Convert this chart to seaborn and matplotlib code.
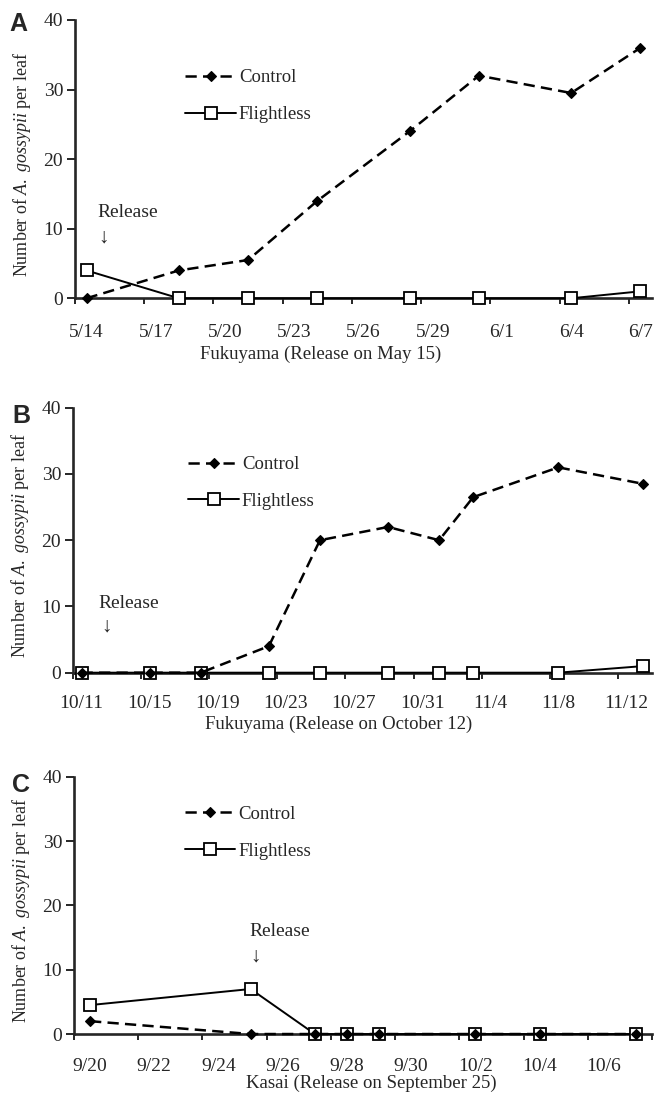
import matplotlib
matplotlib.use("Agg")
import numpy as np
import pandas as pd
import matplotlib.pyplot as plt
import seaborn as sns

YEAR = 2008

# Panel A - Fukuyama, release on May 15
a_dates = ["5/14", "5/18", "5/21", "5/24", "5/28", "5/31", "6/4", "6/7"]
a_control = [0, 4, 5.5, 14, 24, 32, 29.5, 36]
a_flightless = [4, 0, 0, 0, 0, 0, 0, 1]
a_ticklabels = ["5/14", "5/17", "5/20", "5/23", "5/26", "5/29", "6/1", "6/4", "6/7"]

# Panel B - Fukuyama, release on October 12
b_dates = ["10/11", "10/15", "10/18", "10/22", "10/25", "10/29", "11/1", "11/3", "11/8", "11/13"]
b_control = [0, 0, 0, 4, 20, 22, 20, 26.5, 31, 28.5]
b_flightless = [0, 0, 0, 0, 0, 0, 0, 0, 0, 1]
b_ticklabels = ["10/11", "10/15", "10/19", "10/23", "10/27", "10/31", "11/4", "11/8", "11/12"]

# Panel C - Kasai, release on September 25
c_dates = ["9/20", "9/25", "9/27", "9/28", "9/29", "10/2", "10/4", "10/7"]
c_control = [2, 0, 0, 0, 0, 0, 0, 0]
c_flightless = [4.5, 7, 0, 0, 0, 0, 0, 0]
c_ticklabels = ["9/20", "9/22", "9/24", "9/26", "9/28", "9/30", "10/2", "10/4", "10/6"]

xlabels = ["Fukuyama (Release on May 15)",
           "Fukuyama (Release on October 12)",
           "Kasai (Release on September 25)"]
letters = ["A", "B", "C"]

sns.set_style("ticks")
plt.rcParams['font.family'] = ['Liberation Serif', 'DejaVu Serif']
plt.rcParams['mathtext.fontset'] = 'custom'
plt.rcParams['mathtext.rm'] = 'Liberation Serif'
plt.rcParams['mathtext.it'] = 'Liberation Serif:italic'


def to_days(dates, start):
    dt = pd.to_datetime([f"{YEAR}/{d}" for d in dates], format="%Y/%m/%d")
    return (dt - start).days.values


def draw_panel(ax, dates, control, flightless, ticklabels, layout):
    start = pd.to_datetime(f"{YEAR}/{dates[0]}", format="%Y/%m/%d")
    days = to_days(dates, start)
    lab_days = to_days(ticklabels, start)
    df = pd.DataFrame({'day': days, 'Control': control, 'Flightless': flightless})

    sns.lineplot(data=df, x='day', y='Flightless', ax=ax, color='black',
                 linewidth=1.4, marker='s', markersize=8, markerfacecolor='white',
                 markeredgecolor='black', markeredgewidth=1.3, clip_on=False,
                 label='Flightless', zorder=3)
    sns.lineplot(data=df, x='day', y='Control', ax=ax, color='black',
                 linewidth=1.8, linestyle=(0, (4.5, 2.5)), marker='D', markersize=5.5,
                 markerfacecolor='black', markeredgecolor='black', markeredgewidth=0.8,
                 clip_on=False, label='Control', zorder=4)

    xmin, xmax = days[0] - 0.5, layout['xmax']
    ax.set_xlim(xmin, xmax)
    ax.set_ylim(0, 40)
    ax.set_yticks([0, 10, 20, 30, 40])

    # ticks sit between day categories, labels centred on the day
    step = lab_days[1] - lab_days[0]
    ax.set_xticks(np.arange(lab_days[0] - 0.5, xmax + 0.01, step))
    ax.set_xticklabels([])
    ax.set_xticks(lab_days, minor=True)
    ax.set_xticklabels(ticklabels, minor=True)
    ax.tick_params(axis='x', which='major', length=4, width=1.4, direction='out')
    ax.tick_params(axis='x', which='minor', length=0, pad=layout['xpad'], labelsize=14)
    ax.tick_params(axis='y', length=5.5, width=1.4, pad=3, labelsize=14)

    sns.despine(ax=ax)
    for s in ['left', 'bottom']:
        ax.spines[s].set_linewidth(1.9)

    ax.set_xlabel(layout['xlabel'], fontsize=13.5)
    ax.xaxis.set_label_coords(layout['xlabel_x'], layout['xlabel_y'])
    ax.set_ylabel(r"Number of $\mathit{A.\ gossypii}$ per leaf", fontsize=13)
    ax.yaxis.set_label_coords(-0.072, 0.48)

    handles, labels = ax.get_legend_handles_labels()
    order = [labels.index('Control'), labels.index('Flightless')]
    ax.legend([handles[i] for i in order], [labels[i] for i in order],
              loc='upper left', bbox_to_anchor=layout['legend'], frameon=False,
              borderpad=0, handlelength=2.7, handletextpad=0.15,
              labelspacing=1.05, fontsize=13.5)

    rx, ry, ay = layout['release']
    ax.text(rx, ry, "Release", fontsize=14, ha='left', va='center')
    ax.text(rx + layout['arrow_dx'], ay, "\u2193", fontsize=15, ha='left', va='center')

    ax.text(layout['letter_pos'][0], layout['letter_pos'][1], layout['letter'],
            transform=ax.transAxes, family='Liberation Sans', fontweight='bold',
            fontsize=18, ha='left', va='baseline')


fig = plt.figure(figsize=(6.55, 10.97), dpi=100)
ax_a = fig.add_axes([0.1145, 0.7281, 0.8809, 0.2537])
ax_b = fig.add_axes([0.1115, 0.3868, 0.8839, 0.2415])
ax_c = fig.add_axes([0.1130, 0.0574, 0.8824, 0.2346])

draw_panel(ax_a, a_dates, a_control, a_flightless, a_ticklabels,
           dict(xmax=24.5, xlabel=xlabels[0], xlabel_x=0.425, xlabel_y=-0.169, xpad=18.3,
                legend=(0.175, 0.857), release=(0.45, 12.3, 8.7), arrow_dx=0.05,
                letter=letters[0], letter_pos=(-0.114, 0.96)))
draw_panel(ax_b, b_dates, b_control, b_flightless, b_ticklabels,
           dict(xmax=33.5, xlabel=xlabels[1], xlabel_x=0.459, xlabel_y=-0.163, xpad=15.8,
                legend=(0.183, 0.853), release=(1.0, 10.4, 6.9), arrow_dx=0.15,
                letter=letters[1], letter_pos=(-0.105, 0.941)))
draw_panel(ax_c, c_dates, c_control, c_flightless, c_ticklabels,
           dict(xmax=17.5, xlabel=xlabels[2], xlabel_x=0.515, xlabel_y=-0.158, xpad=17.3,
                legend=(0.175, 0.923), release=(4.97, 15.9, 12.0), arrow_dx=0.02,
                letter=letters[2], letter_pos=(-0.108, 0.942)))

fig.savefig("out.png", dpi=100)
